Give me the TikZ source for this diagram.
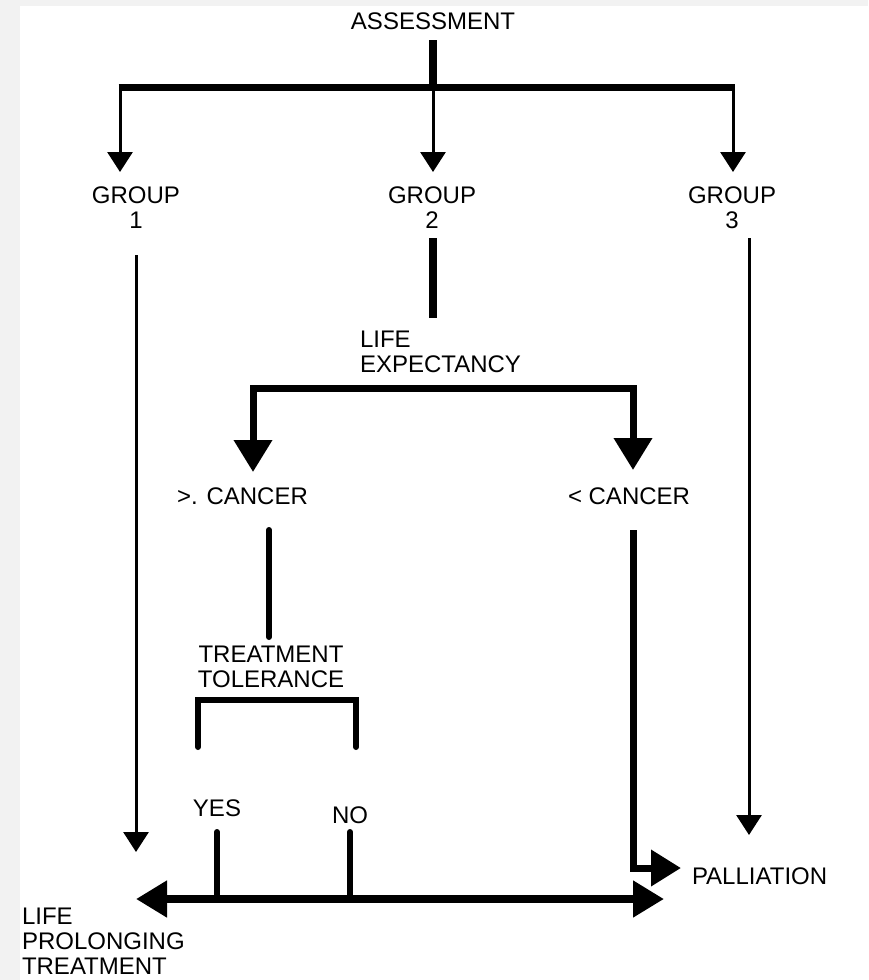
\documentclass[tikz,border=0pt]{standalone}
\usepackage{fontspec}
\setmainfont{Liberation Sans}
\usetikzlibrary{arrows.meta}
\begin{document}
\begin{tikzpicture}[x=1pt,y=-1pt,
  lbl/.style={inner sep=0pt,outer sep=0pt,font=\fontsize{24}{25}\selectfont,text=black},
  thinarr/.style={line width=3pt,-{Triangle[length=20pt,width=25pt]}},
  heavy/.style={line width=7pt},
]
\useasboundingbox (0,0) rectangle (868,980);
\fill[black!5] (0,0) rectangle (868,980);
\fill[white] (20,6) rectangle (868,980);

% texts
\node[lbl] (ass) at (433,21.5) {ASSESSMENT};
\node[lbl,align=center] (g1) at (136,208) {GROUP\\1};
\node[lbl,align=center] (g2) at (432,208) {GROUP\\2};
\node[lbl,align=center] (g3) at (732,208) {GROUP\\3};
\node[lbl,align=left,anchor=west] (le) at (360,351.5) {LIFE\\EXPECTANCY};
\node[lbl,anchor=west] (gt) at (177,496) {>. CANCER};
\node[lbl,anchor=west] (lt) at (568,496) {< CANCER};
\node[lbl,align=center] (tt) at (271,667) {TREATMENT\\TOLERANCE};
\node[lbl] (yes) at (217,808) {YES};
\node[lbl] (no) at (350,815) {NO};
\node[lbl,anchor=west] (pal) at (692,876) {PALLIATION};
\node[lbl,align=left,anchor=west] (lpt) at (22,941) {LIFE\\PROLONGING\\TREATMENT};

% junction coordinates
\coordinate (s0) at (433,40);
\coordinate (b0) at (433,87);
\coordinate (bl) at (120,87);
\coordinate (br) at (733,87);
\coordinate (a1) at (120,172);
\coordinate (a2) at (433,172);
\coordinate (a3) at (733,172);
\coordinate (g1s) at (136,255);
\coordinate (g1e) at (136,852);
\coordinate (g3s) at (749,238);
\coordinate (g3e) at (749,835);
\coordinate (g2s) at (433,238);
\coordinate (g2e) at (433,318);
\coordinate (lel) at (253,472);
\coordinate (ler) at (633,470);
\coordinate (lebar) at (443,388);
\coordinate (gts) at (269,530);
\coordinate (gte) at (269,637);
\coordinate (ttl) at (198,747);
\coordinate (ttr) at (356,747);
\coordinate (ttbar) at (277,700);
\coordinate (ys) at (217,832);
\coordinate (ye) at (217,899);
\coordinate (ns) at (350,832);
\coordinate (ne) at (350,899);
\coordinate (bl2) at (136,899);
\coordinate (br2) at (664,899);
\coordinate (lts) at (633,530);
\coordinate (pe) at (681,868);

% top tree
\draw[line width=8pt] (s0) -- (b0);
\draw[heavy] ([xshift=-1.5pt]bl) -- ([xshift=1.5pt]br);
\draw[thinarr] (bl) -- (a1);
\draw[thinarr] (b0) -- (a2);
\draw[thinarr] (br) -- (a3);

% group 1 and 3
\draw[thinarr] (g1s) -- (g1e);
\draw[thinarr] (g3s) -- (g3e);

% group 2
\draw[line width=8pt] (g2s) -- (g2e);
\draw[heavy,line join=miter,{Triangle[length=32pt,width=37pt]}-{Triangle[length=32pt,width=37pt]}] (lel) |- (lebar) -| (ler);

% > cancer
\draw[line width=6pt,line cap=round] (gts) -- (gte);
\draw[line width=6pt,line cap=round,line join=miter] (ttl) |- (ttbar) -| (ttr);
\draw[line width=6pt,line cap=round] (ys) -- (ye);
\draw[line width=6pt,line cap=round] (ns) -- (ne);
\draw[line width=8pt,{Triangle[length=31pt,width=35pt]}-{Triangle[length=31pt,width=35pt]}] (bl2) -- (br2);

% < cancer
\draw[heavy,line join=miter,-{Triangle[length=30pt,width=35pt]}] (lts) |- (pe);
\end{tikzpicture}
\end{document}
